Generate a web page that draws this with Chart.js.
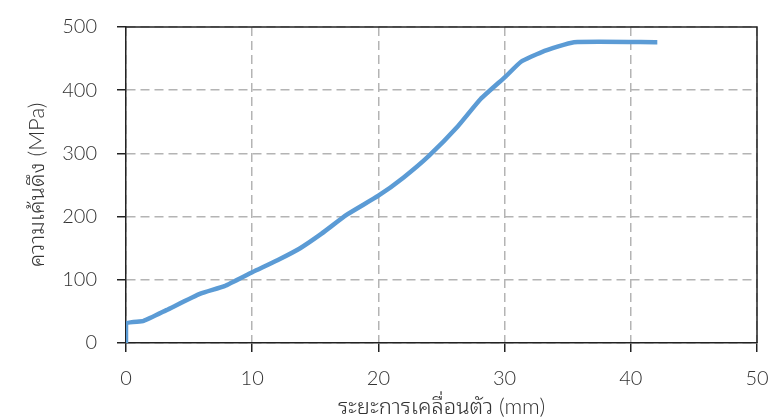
<!DOCTYPE html>
<html>
<head>
<meta charset="utf-8">
<script src="https://cdn.jsdelivr.net/npm/chart.js@4"></script>
<style>
  html, body { margin: 0; padding: 0; background: #fff; }
  #wrap { width: 773px; height: 420px; }
</style>
</head>
<body>
<div id="wrap"><canvas id="stressChart" width="773" height="420"></canvas></div>
<script>
// ระยะการเคลื่อนตัว (mm) และ ความเค้นดึง (MPa) อ่านจากกราฟ
const displacement = [0, 0, 1.4, 3.2, 5.9, 7.8, 10, 12, 13.8, 15.5, 17.5, 20, 22, 24, 26.3, 28.1, 30.1, 31.3, 32.9, 35.5, 42.1];
const stress = [0, 31, 35, 52, 78, 90, 112, 131, 150, 173, 203, 233, 262, 296, 343, 386, 422, 445, 460, 476, 476];

const xTicks = [0, 10, 20, 30, 40, 50];
const yTicks = [0, 100, 200, 300, 400, 500];

const xTitle = 'ระยะการเคลื่อนตัว (mm)';
const yTitle = 'ความเค้นดึง (MPa)';

const points = displacement.map((x, i) => ({ x, y: stress[i] }));

const fontFamily = "Lato, 'Noto Sans', sans-serif";
const titleFont = { family: "Lato, 'Noto Sans Thai Looped', 'Noto Sans Thai', sans-serif", size: 22, weight: 300, lineHeight: 0.81 };
const textColor = '#333';
const gridColor = '#b4b4b4';

// Marco negro arriba y a la derecha
const framePlugin = {
  id: 'frame',
  afterDraw(chart) {
    const { ctx, chartArea: a } = chart;
    ctx.save();
    ctx.strokeStyle = '#222';
    ctx.lineWidth = 1.5;
    ctx.beginPath();
    ctx.moveTo(a.left, a.top);
    ctx.lineTo(a.right, a.top);
    ctx.lineTo(a.right, a.bottom);
    ctx.stroke();
    ctx.restore();
  }
};

new Chart(document.getElementById('stressChart'), {
  type: 'line',
  data: {
    datasets: [{
      data: points,
      borderColor: '#5b9bd5',
      borderWidth: 4.5,
      pointRadius: 0,
      tension: 0.15,
      fill: false
    }]
  },
  options: {
    responsive: false,
    animation: false,
    layout: { padding: { top: 27, right: 16, left: 0, bottom: 0 } },
    plugins: { legend: { display: false }, tooltip: { enabled: false } },
    scales: {
      x: {
        type: 'linear',
        min: 0,
        max: 50,
        afterBuildTicks: s => { s.ticks = xTicks.map(v => ({ value: v })); },
        afterFit: s => { s.height = 77; s.paddingLeft = 0; s.paddingRight = 0; },
        ticks: { color: textColor, padding: 15, font: { family: fontFamily, size: 20, weight: 300 } },
        grid: { color: gridColor, lineWidth: 1.5, tickColor: '#222', tickLength: 9, tickWidth: 1.5 },
        border: { color: '#222', width: 1.5, dash: [9, 5] },
        title: { display: true, text: xTitle, color: textColor, padding: { top: 0 }, font: titleFont }
      },
      y: {
        min: 0,
        max: 500,
        afterBuildTicks: s => { s.ticks = yTicks.map(v => ({ value: v })); },
        afterFit: s => { s.width = 126; s.paddingTop = 0; s.paddingBottom = 0; },
        ticks: { color: textColor, padding: 20, font: { family: fontFamily, size: 20, weight: 300 } },
        grid: { color: gridColor, lineWidth: 1.5, tickColor: '#222', tickLength: 9, tickWidth: 1.5 },
        border: { color: '#222', width: 1.5, dash: [9, 5] },
        title: { display: true, text: yTitle, color: textColor, padding: { top: 28 }, font: titleFont }
      }
    }
  },
  plugins: [framePlugin]
});
</script>
</body>
</html>
